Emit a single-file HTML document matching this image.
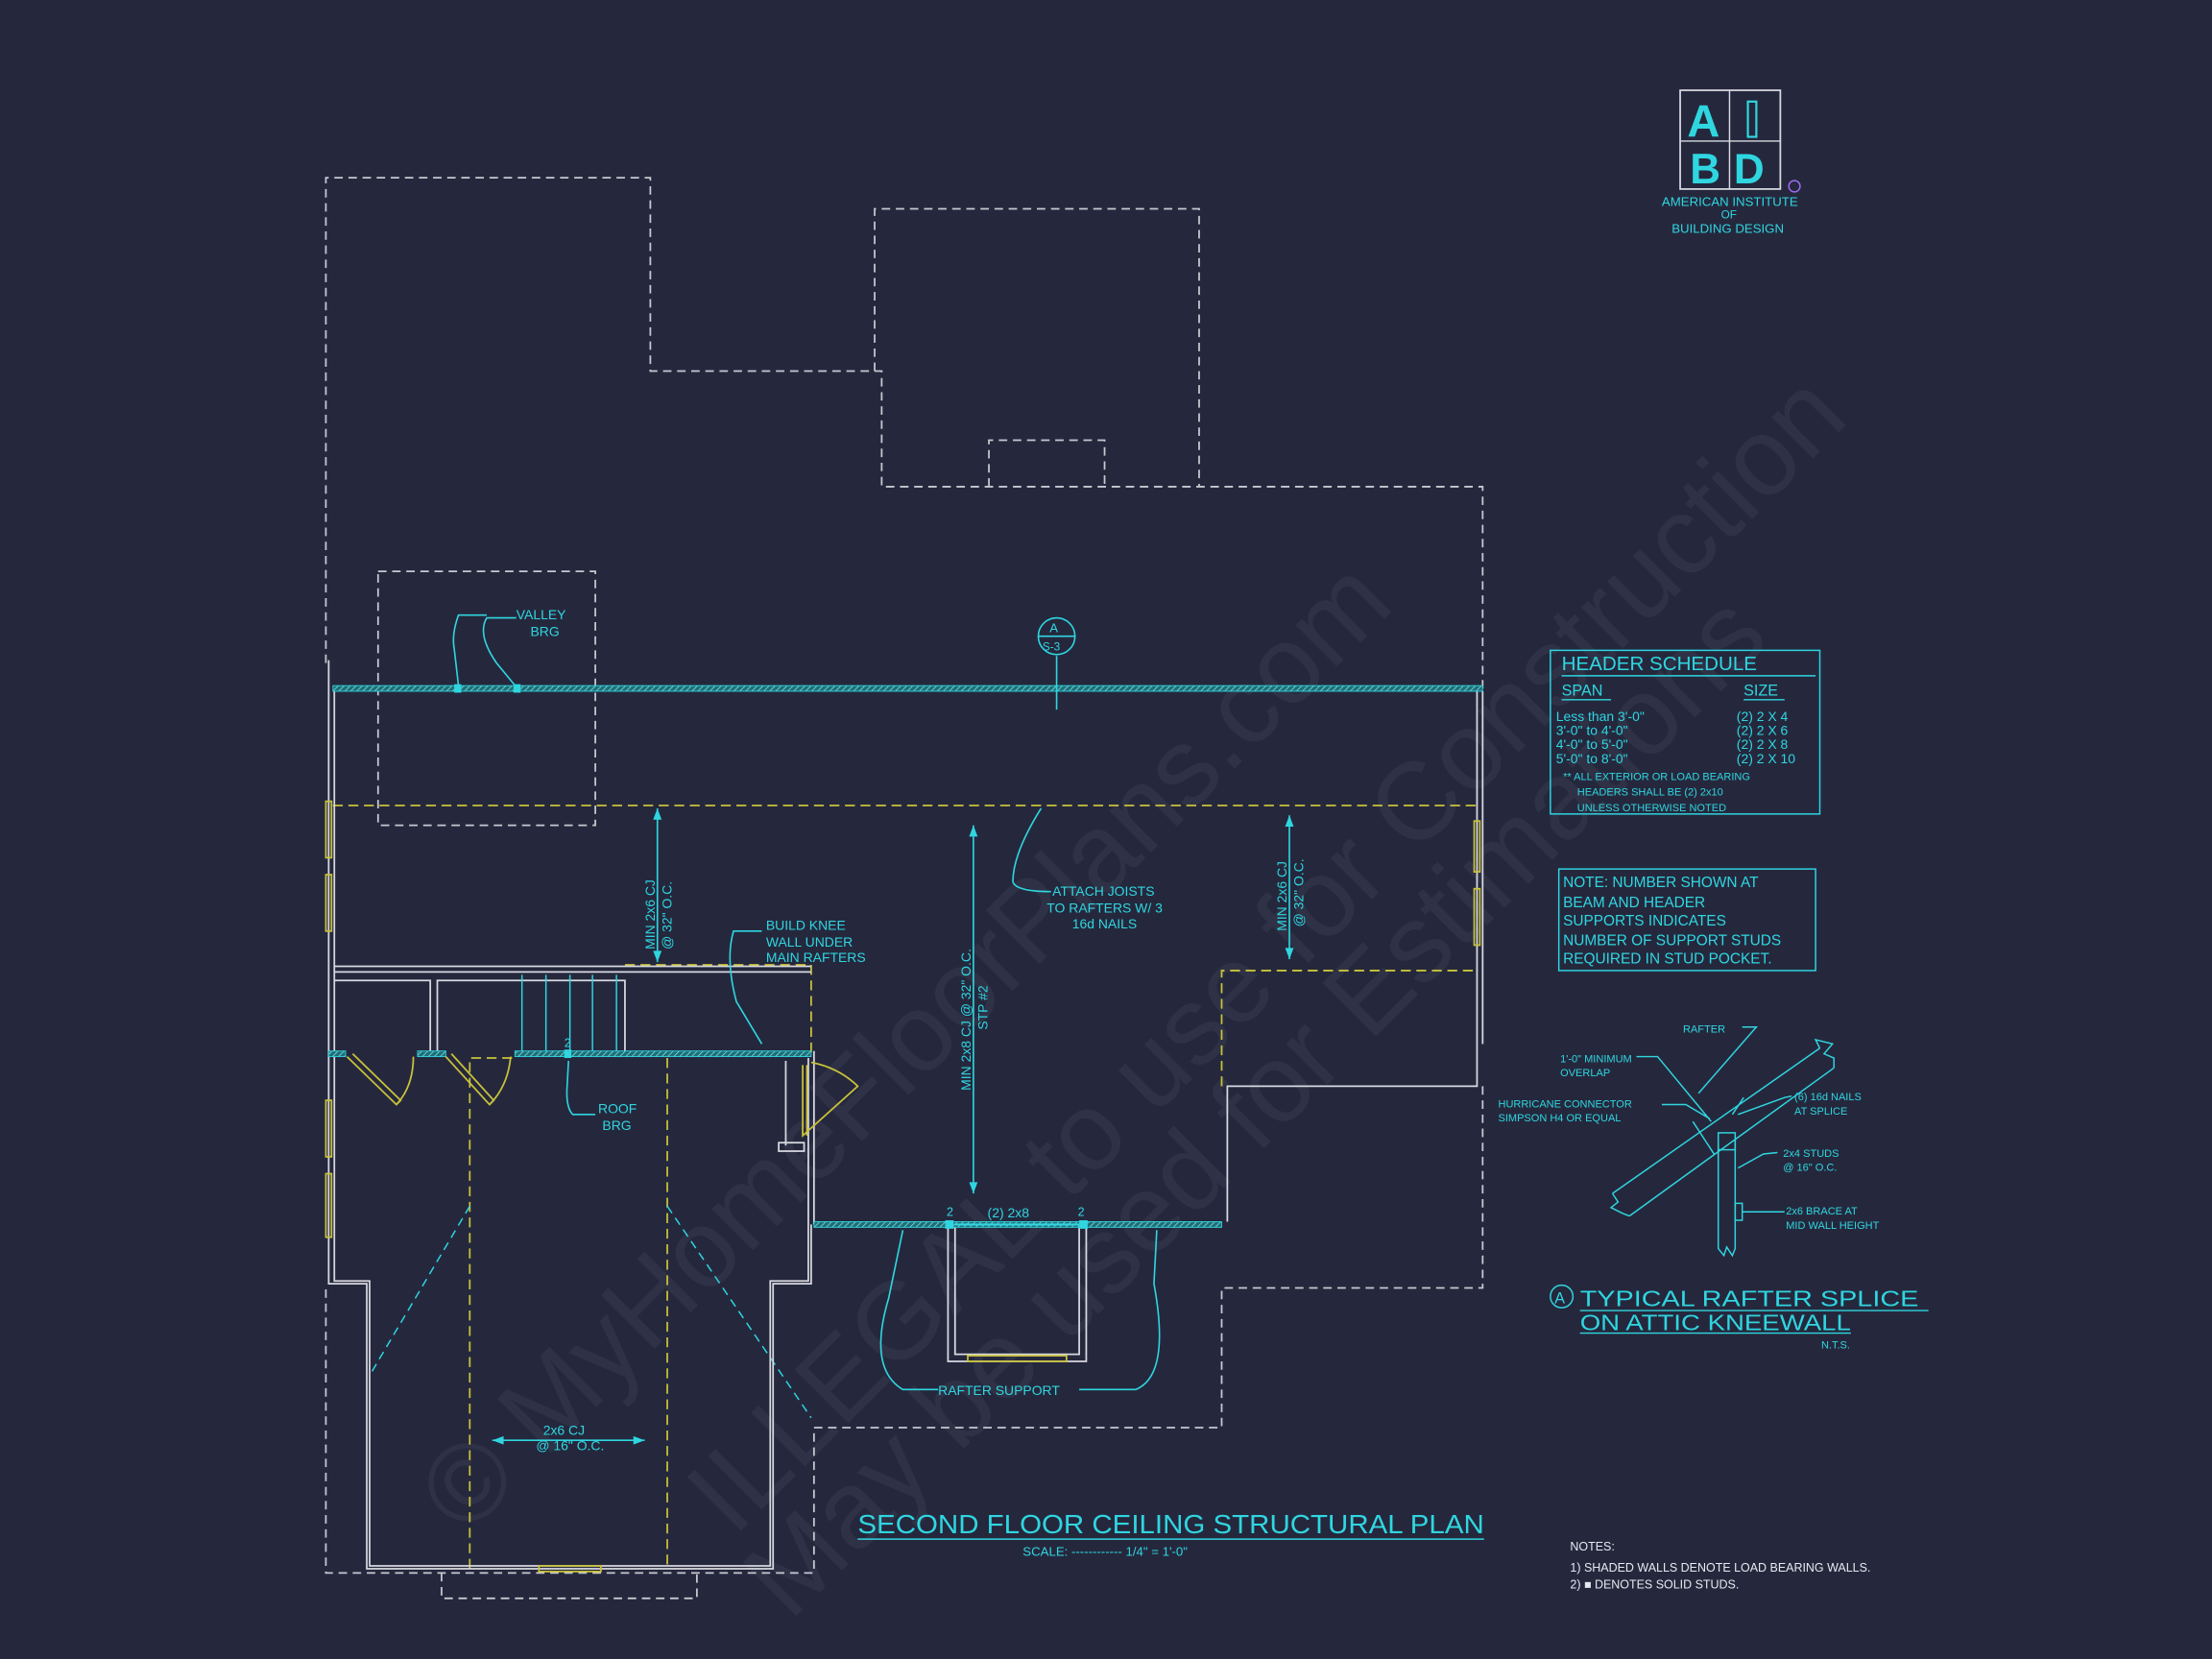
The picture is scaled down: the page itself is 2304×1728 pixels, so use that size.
<!DOCTYPE html>
<html><head><meta charset="utf-8"><style>
html,body{margin:0;padding:0;background:#25283d;}
svg{display:block}
text{font-family:"Liberation Sans",sans-serif;fill:#2fd6e0;}
</style></head><body>
<svg width="2304" height="1728" viewBox="0 0 1568 1176" xmlns="http://www.w3.org/2000/svg">
<defs>
<pattern id="h" width="3" height="3" patternUnits="userSpaceOnUse" patternTransform="rotate(45)">
<rect width="3" height="3" fill="#1f6f78"/><line x1="0" y1="0" x2="0" y2="3" stroke="#7fe8ee" stroke-width="1"/>
</pattern>
</defs>
<rect width="1568" height="1176" fill="#25283d"/>

<!-- watermark -->
<g opacity="0.045" font-family="Liberation Serif" font-size="78">
<text x="330" y="1090" transform="rotate(-45 330 1090)" style="fill:#fff">© MyHomeFloorPlans.com</text>
<text x="520" y="1090" transform="rotate(-45 520 1090)" style="fill:#fff">ILLEGAL to use for Construction</text>
<text x="560" y="1150" transform="rotate(-45 560 1150)" style="fill:#fff">May be used for Estimations</text>
</g>

<g fill="none" stroke="#c8c8d0" stroke-width="1.2" stroke-dasharray="6,4">
<polyline points="231,470 231,126 461,126 461,263 625,263 625,345 1051,345 1051,488"/>
<polyline points="620,263 620,148 850,148 850,345"/>
<polyline points="701,345 701,312 783,312 783,345"/>
<rect x="268" y="405" width="154" height="180"/>
<polyline points="1051,770 1051,913 866,913 866,1012 577,1012 577,1115 231,1115 231,910"/>
<polyline points="313,1115 313,1133 494,1133 494,1115"/>
</g>

<g fill="none" stroke="#c9c23a" stroke-width="1.2" stroke-dasharray="7,4">
<line x1="236" y1="571" x2="1047" y2="571"/>
<polyline points="866,770 866,688 1047,688"/>
<polyline points="443,684 575,684 575,747"/>
<polyline points="333,1112 333,750 365,750"/>
<line x1="473" y1="750" x2="473" y2="1112"/>
</g>

<g stroke="#2fd6e0" stroke-width="1" stroke-dasharray="6,4" fill="none">
<line x1="333" y1="855" x2="262" y2="975"/>
<line x1="473" y1="855" x2="575" y2="1005"/>
</g>

<g fill="none" stroke="#d8d8e0" stroke-width="1.2">
<polyline points="233,468 233,910 260,910 260,1112 548,1112 548,910 575,910 575,868"/>
<polyline points="237,490 237,908 262,908 262,1110 546,1110 546,908 573,908 573,750"/>
<polyline points="1047,490 1047,770 870,770 870,866"/>
<polyline points="1051,490 1051,740"/>
<line x1="237" y1="685" x2="575" y2="685"/>
<line x1="237" y1="689" x2="575" y2="689"/>
<polyline points="237,695 305,695 305,745"/>
<polyline points="310,745 310,695 443,695 443,745"/>
<line x1="577" y1="745" x2="577" y2="868"/>
<line x1="557" y1="752" x2="557" y2="812"/>
<rect x="552" y="810" width="18" height="6"/>
<polyline points="672,870 672,965 770,965 770,870"/>
<polyline points="677,870 677,960 765,960 765,870"/>
</g>
<g stroke="#2fd6e0" stroke-width="1">
<line x1="370" y1="691" x2="370" y2="745"/><line x1="387" y1="691" x2="387" y2="745"/>
<line x1="404" y1="691" x2="404" y2="745"/><line x1="420" y1="691" x2="420" y2="745"/>
<line x1="437" y1="691" x2="437" y2="745"/>
</g>

<rect x="236" y="486" width="815" height="4" fill="url(#h)" stroke="#2fd6e0" stroke-width="0.6"/>
<rect x="365" y="745" width="210" height="4" fill="url(#h)" stroke="#2fd6e0" stroke-width="0.6"/>
<rect x="233" y="745" width="12" height="4" fill="url(#h)" stroke="#2fd6e0" stroke-width="0.6"/>
<rect x="296" y="745" width="20" height="4" fill="url(#h)" stroke="#2fd6e0" stroke-width="0.6"/>
<rect x="577" y="866" width="289" height="4" fill="url(#h)" stroke="#2fd6e0" stroke-width="0.6"/>
<line x1="677" y1="868" x2="765" y2="868" stroke="#2fd6e0" stroke-width="1.5"/>
<g fill="#2fd6e0">
<rect x="322" y="485" width="5" height="6"/><rect x="364" y="485" width="5" height="6"/>
<rect x="400" y="744" width="5" height="6"/>
<rect x="670" y="865" width="6" height="6"/><rect x="765" y="865" width="6" height="6"/>
</g>

<g fill="none" stroke="#c9c23a" stroke-width="1.2">
<rect x="231" y="568" width="4" height="40"/><rect x="231" y="620" width="4" height="40"/>
<rect x="231" y="780" width="4" height="40"/><rect x="231" y="832" width="4" height="45"/>
<rect x="1045" y="582" width="4" height="36"/><rect x="1045" y="630" width="4" height="40"/>
<rect x="382" y="1110" width="44" height="4"/>
<rect x="686" y="961" width="70" height="4"/>
<path d="M246,749 L281,783 L284,780 L250,747"/><path d="M281,783 Q293,770 293,749"/>
<path d="M316,749 L347,783 L350,780 L320,747"/><path d="M347,783 Q360,770 362,749"/>
<path d="M569,755 L569,805 L608,770 Q595,757 575,753"/><line x1="572" y1="755" x2="572" y2="805"/>
</g>

<g fill="none" stroke="#2fd6e0" stroke-width="1.1">
<line x1="466" y1="573" x2="466" y2="682"/>
<line x1="690" y1="585" x2="690" y2="846"/>
<line x1="914" y1="578" x2="914" y2="680"/>
<path d="M366,438 L345,438 Q338,450 352,470 L366,487"/>
<path d="M345,436 L325,436 Q320,450 322,460 L325,486"/>
<path d="M738,573 Q718,605 718,625 Q720,632 745,632"/>
<path d="M540,660 L520,660 Q514,680 522,710 L540,740"/>
<path d="M422,790 L406,790 Q401,785 402,770 L403,752"/>
<path d="M665,985 L640,985 Q615,970 630,920 L640,872"/>
<path d="M765,985 L805,985 Q830,975 818,910 L820,872"/>
<line x1="749" y1="465" x2="749" y2="503"/>
<line x1="349" y1="1021" x2="457" y2="1021"/>
<circle cx="749" cy="451" r="13"/><line x1="736" y1="451" x2="762" y2="451"/>
</g>
<g fill="#2fd6e0">
<path d="M466,573 l-3,8 h6z"/><path d="M466,682 l-3,-8 h6z"/>
<path d="M690,585 l-3,8 h6z"/><path d="M690,846 l-3,-8 h6z"/>
<path d="M914,578 l-3,8 h6z"/><path d="M914,680 l-3,-8 h6z"/>
<path d="M349,1021 l8,-3 v6z"/><path d="M457,1021 l-8,-3 v6z"/>
</g>

<g font-size="9.5">
<text x="366" y="439">VALLEY</text><text x="376" y="451">BRG</text>
<text x="543" y="659">BUILD KNEE</text><text x="543" y="671">WALL UNDER</text><text x="543" y="682">MAIN RAFTERS</text>
<text x="746" y="635">ATTACH JOISTS</text><text x="742" y="647">TO RAFTERS W/ 3</text><text x="760" y="658">16d NAILS</text>
<text x="424" y="789">ROOF</text><text x="427" y="801">BRG</text>
<text x="665" y="989">RAFTER SUPPORT</text>
<text x="700" y="863">(2) 2x8</text>
<text x="671" y="862" font-size="8.5">2</text><text x="764" y="862" font-size="8.5">2</text><text x="400" y="742" font-size="8.5">2</text>
<text x="385" y="1017">2x6 CJ</text><text x="380" y="1028">@ 16" O.C.</text>
<text transform="translate(464,673) rotate(-90)">MIN 2x6 CJ</text>
<text transform="translate(476,673) rotate(-90)">@ 32" O.C.</text>
<text transform="translate(688,773) rotate(-90)">MIN 2x8 CJ @ 32" O.C.</text>
<text transform="translate(700,730) rotate(-90)">STP #2</text>
<text transform="translate(912,660) rotate(-90)">MIN 2x6 CJ</text>
<text transform="translate(924,657) rotate(-90)">@ 32" O.C.</text>
<text x="744" y="448" font-size="9">A</text><text x="739" y="461" font-size="8">S-3</text>
</g>

<text x="608" y="1087" font-size="19" textLength="444" lengthAdjust="spacingAndGlyphs">SECOND FLOOR CEILING STRUCTURAL PLAN</text>
<line x1="608" y1="1091" x2="1052" y2="1091" stroke="#2fd6e0" stroke-width="1"/>
<text x="725" y="1103" font-size="9">SCALE: ------------ 1/4" = 1'-0"</text>

<g font-size="8.5">
<text x="1113" y="1099" style="fill:#e8e8f0">NOTES:</text>
<text x="1113" y="1114" style="fill:#e8e8f0">1) SHADED WALLS DENOTE LOAD BEARING WALLS.</text>
<text x="1113" y="1126" style="fill:#e8e8f0">2) ■ DENOTES SOLID STUDS.</text>
</g>

<rect x="1099" y="461" width="191" height="116" fill="none" stroke="#2fd6e0" stroke-width="1"/>
<text x="1107" y="475" font-size="14">HEADER SCHEDULE</text>
<line x1="1107" y1="479" x2="1287" y2="479" stroke="#2fd6e0"/>
<text x="1107" y="493" font-size="11">SPAN</text><text x="1236" y="493" font-size="11">SIZE</text>
<line x1="1107" y1="496" x2="1142" y2="496" stroke="#2fd6e0"/><line x1="1236" y1="496" x2="1265" y2="496" stroke="#2fd6e0"/>
<g font-size="9.5">
<text x="1103" y="511">Less than 3'-0"</text><text x="1231" y="511">(2) 2 X 4</text>
<text x="1103" y="521">3'-0" to 4'-0"</text><text x="1231" y="521">(2) 2 X 6</text>
<text x="1103" y="531">4'-0" to 5'-0"</text><text x="1231" y="531">(2) 2 X 8</text>
<text x="1103" y="541">5'-0" to 8'-0"</text><text x="1231" y="541">(2) 2 X 10</text>
</g>
<g font-size="7.5">
<text x="1108" y="553">** ALL EXTERIOR OR LOAD BEARING</text>
<text x="1118" y="564">HEADERS SHALL BE (2) 2x10</text>
<text x="1118" y="575">UNLESS OTHERWISE NOTED</text>
</g>
<rect x="1105" y="616" width="182" height="72" fill="none" stroke="#2fd6e0" stroke-width="1"/>
<g font-size="10.5">
<text x="1108" y="629">NOTE: NUMBER SHOWN AT</text>
<text x="1108" y="643">BEAM AND HEADER</text>
<text x="1108" y="656">SUPPORTS INDICATES</text>
<text x="1108" y="670">NUMBER OF SUPPORT STUDS</text>
<text x="1108" y="683">REQUIRED IN STUD POCKET.</text>
</g>

<!-- rafter splice detail -->
<g fill="none" stroke="#2fd6e0" stroke-width="1">
<line x1="1143" y1="846" x2="1290" y2="743"/>
<line x1="1155" y1="862" x2="1300" y2="757"/>
<polyline points="1290,743 1287,737 1299,740 1293,747 1300,750 1300,757"/>
<polyline points="1143,846 1147,852 1142,856 1150,860 1155,862"/>
<line x1="1200" y1="795" x2="1215" y2="818"/>
<line x1="1236" y1="778" x2="1228" y2="790"/>
<polyline points="1218,812 1218,885 1222,890 1224,884 1228,890 1230,885 1230,808"/>
<rect x="1218" y="803" width="12" height="12"/>
<rect x="1230" y="853" width="5" height="12"/>
<polyline points="1160,749 1175,749 1213,795"/>
<polyline points="1235,728 1245,728 1204,775"/>
<polyline points="1178,783 1195,783 1212,793"/>
<polyline points="1270,777 1265,778 1232,790"/>
<polyline points="1260,817 1250,818 1232,828"/>
<line x1="1235" y1="859" x2="1265" y2="859"/>
<circle cx="1107" cy="919" r="8"/>
<line x1="1120" y1="929" x2="1367" y2="929"/>
<line x1="1120" y1="945" x2="1312" y2="945"/>
</g>
<g font-size="7.5">
<text x="1193" y="732">RAFTER</text>
<text x="1106" y="753">1'-0" MINIMUM</text><text x="1106" y="763">OVERLAP</text>
<text x="1062" y="785">HURRICANE CONNECTOR</text><text x="1062" y="795">SIMPSON H4 OR EQUAL</text>
<text x="1272" y="780">(6) 16d NAILS</text><text x="1272" y="790">AT SPLICE</text>
<text x="1264" y="820">2x4 STUDS</text><text x="1264" y="830">@ 16" O.C.</text>
<text x="1266" y="861">2x6 BRACE AT</text><text x="1266" y="871">MID WALL HEIGHT</text>
<text x="1291" y="956">N.T.S.</text>
</g>
<text x="1102" y="924" font-size="11">A</text>
<text x="1120" y="926" font-size="16" textLength="240" lengthAdjust="spacingAndGlyphs">TYPICAL RAFTER SPLICE</text>
<text x="1120" y="943" font-size="16" textLength="192" lengthAdjust="spacingAndGlyphs">ON ATTIC KNEEWALL</text>

<rect x="1191" y="64" width="71" height="70" fill="none" stroke="#d8d8e0" stroke-width="1.2"/>
<line x1="1191" y1="100" x2="1262" y2="100" stroke="#d8d8e0"/>
<line x1="1226" y1="64" x2="1226" y2="134" stroke="#d8d8e0"/>
<text x="1196" y="97" font-size="32" font-weight="bold">A</text>
<rect x="1239" y="72" width="6" height="25" fill="none" stroke="#2fd6e0" stroke-width="1.5"/>
<text x="1198" y="130" font-size="30" font-weight="bold">B</text>
<text x="1229" y="130" font-size="30" font-weight="bold">D</text>
<circle cx="1272" cy="132" r="4" fill="none" stroke="#9b6cf0"/>
<text x="1178" y="146" font-size="9">AMERICAN INSTITUTE</text>
<text x="1220" y="155" font-size="8">OF</text>
<text x="1185" y="165" font-size="9">BUILDING DESIGN</text>
</svg>
</body></html>
